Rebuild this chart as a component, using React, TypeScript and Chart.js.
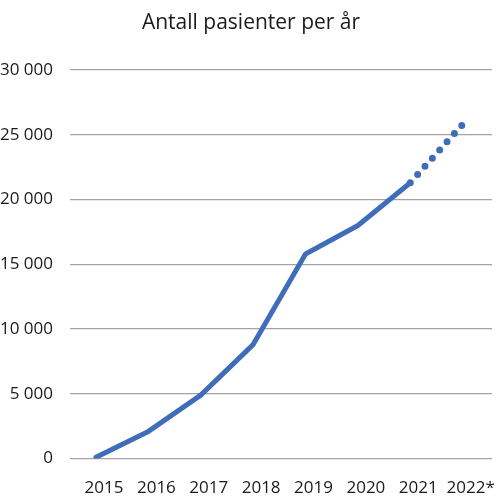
import Chart from "chart.js/auto";
import { useEffect, useRef } from "react";

const years = [2015, 2016, 2017, 2018, 2019, 2020, 2021, 2022];
const yearLabels = ["2015", "2016", "2017", "2018", "2019", "2020", "2021", "2022*"];
const patients = [100, 2100, 4900, 8800, 15800, 18000, 21300, 25800];
const yTicks = [0, 5000, 10000, 15000, 20000, 25000, 30000];
const title = "Antall pasienter per år";

const BLUE = "#3f6db9";
const FONT = "'Open Sans', 'Noto Sans', sans-serif";

const fmt = (v: number) => String(v).replace(/\B(?=(\d{3})+(?!\d))/g, " ");

// title centred on the whole canvas, not on the padded layout box
const titlePlugin = {
  id: "pageTitle",
  afterDraw(chart: Chart) {
    const { ctx, width } = chart;
    ctx.save();
    ctx.font = `21px ${FONT}`;
    ctx.fillStyle = "#1a1a1a";
    ctx.textAlign = "center";
    ctx.textBaseline = "alphabetic";
    ctx.fillText(title, width / 2 + 1, 29);
    ctx.restore();
  },
};

export default function App() {
  const canvasRef = useRef<HTMLCanvasElement | null>(null);

  useEffect(() => {
    document.body.style.margin = "0";
    const canvas = canvasRef.current;
    if (!canvas) return;

    const last = years.length - 2;
    const chart = new Chart(canvas, {
      type: "line",
      data: {
        datasets: [
          {
            label: "Antall pasienter",
            data: years.map((x, i) => ({ x, y: patients[i] })),
            borderColor: BLUE,
            borderWidth: 5,
            borderCapStyle: "round",
            borderJoinStyle: "round",
            pointRadius: 0,
            tension: 0,
            segment: {
              // projected value for the last year is drawn dotted
              borderDash: (ctx: any) => (ctx.p0DataIndex === last ? [0, 11] : undefined),
              borderWidth: (ctx: any) => (ctx.p0DataIndex === last ? 7 : undefined),
            },
          },
        ],
      },
      plugins: [titlePlugin],
      options: {
        animation: false,
        responsive: true,
        maintainAspectRatio: false,
        layout: { padding: { left: 0, right: 8, top: 70, bottom: 4 } },
        plugins: {
          legend: { display: false },
          tooltip: { enabled: false },
          title: { display: false },
        },
        scales: {
          x: {
            type: "linear",
            min: 2014.504,
            max: 2022.56,
            afterBuildTicks: (axis: any) => {
              axis.ticks = years.map((value) => ({ value }));
            },
            grid: {
              drawOnChartArea: false,
              drawTicks: true,
              tickLength: 19,
              tickColor: "transparent",
            },
            border: { display: false },
            ticks: {
              color: "#1a1a1a",
              font: { family: FONT, size: 17 },
              padding: 0,
              labelOffset: 8,
              maxRotation: 0,
              autoSkip: false,
              callback: (v: any) => yearLabels[years.indexOf(Number(v))] ?? "",
            },
          },
          y: {
            min: 0,
            max: 30000,
            afterBuildTicks: (axis: any) => {
              axis.ticks = yTicks.map((value) => ({ value }));
            },
            grid: {
              color: "#a3a3a3",
              lineWidth: 1.3,
              drawTicks: true,
              tickLength: 17,
              tickColor: "transparent",
            },
            border: { display: false },
            ticks: {
              color: "#1a1a1a",
              font: { family: FONT, size: 17 },
              padding: 0,
              callback: (v: any) => fmt(Number(v)),
            },
          },
        },
      },
    });

    return () => {
      chart.destroy();
    };
  }, []);

  return (
    <div style={{ width: 500, height: 502, position: "relative" }}>
      <canvas ref={canvasRef} />
    </div>
  );
}
